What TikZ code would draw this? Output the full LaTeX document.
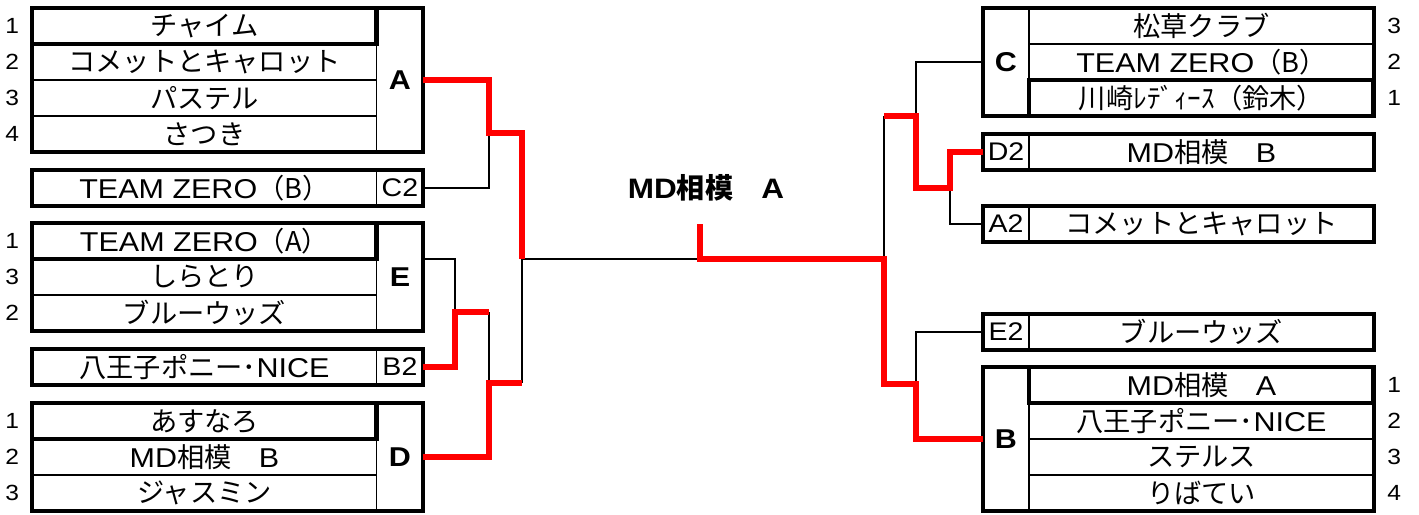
\documentclass[tikz,border=0pt]{standalone}
\usepackage{fontspec}
\setmainfont[FakeStretch=1.12]{Liberation Sans}
\newfontfamily\jpfont{Noto Sans CJK JP}
\newcommand{\jp}[1]{{\jpfont #1}}
\usetikzlibrary{positioning}
\tikzset{
team/.style={draw, line width=0.6pt, minimum width=6.9cm, minimum height=0.72cm, inner sep=0pt, outer sep=0pt, font=\fontsize{15.5}{15.5}\selectfont}, % one row of a pool
seed/.style={team, line width=2.8pt}, % the first of a pool gets a bold box
pool/.style={draw, line width=0.6pt, minimum width=0.92cm, inner sep=0pt, outer sep=0pt, font=\bfseries\fontsize{15.5}{15.5}\selectfont}, % letter column of a pool
tag/.style={pool, minimum height=0.72cm, font=\fontsize{14.5}{14.5}\selectfont}, % C2, B2 ... column
rank/.style={inner sep=0pt, font=\fontsize{12.5}{12.5}\selectfont}, % placing beside the row
frame/.style={line width=1.8pt}, % outer border of a pool
lost/.style={line width=1.5pt}, % black bracket line
won/.style={line width=3.5pt, red}, % red bracket line of the winner
}
\begin{document}
\begin{tikzpicture}[x=0.02cm, y=-0.02cm]
\useasboundingbox (0,0) rectangle (1419,514);
% left half
\node[seed, anchor=north west] (a1) at (32,8) {\jp{チャイム}};
\node[team, below=0pt of a1] (a2) {\jp{コメットとキャロット}};
\node[team, below=0pt of a2] (a3) {\jp{パステル}};
\node[team, below=0pt of a3] (a4) {\jp{さつき}};
\node[pool, minimum height=2.88cm, anchor=north west] (A) at (a1.north east) {A};
\draw[frame] (a1.north west) rectangle (A.south east);

\node[team, anchor=north west] (tC2) at (32,170) {TEAM ZERO\jp{（B）}};
\node[tag, anchor=north west] (C2) at (tC2.north east) {C2};
\draw[frame] (tC2.north west) rectangle (C2.south east);

\node[seed, anchor=north west] (e1) at (32,223) {TEAM ZERO\jp{（A）}};
\node[team, below=0pt of e1] (e2) {\jp{しらとり}};
\node[team, below=0pt of e2] (e3) {\jp{ブルーウッズ}};
\node[pool, minimum height=2.16cm, anchor=north west] (E) at (e1.north east) {E};
\draw[frame] (e1.north west) rectangle (E.south east);

\node[team, anchor=north west] (tB2) at (32,349) {\jp{八王子ポニー･}NICE};
\node[tag, anchor=north west] (B2) at (tB2.north east) {B2};
\draw[frame] (tB2.north west) rectangle (B2.south east);

\node[seed, anchor=north west] (d1) at (32,403) {\jp{あすなろ}};
\node[team, below=0pt of d1] (d2) {MD\jp{相模　}B};
\node[team, below=0pt of d2] (d3) {\jp{ジャスミン}};
\node[pool, minimum height=2.16cm, anchor=north west] (D) at (d1.north east) {D};
\draw[frame] (d1.north west) rectangle (D.south east);

% right half
\node[pool, minimum height=2.16cm, anchor=north west] (C) at (983,8) {C};
\node[team, anchor=north west] (c1) at (C.north east) {\jp{松草クラブ}};
\node[team, below=0pt of c1] (c2) {TEAM ZERO\jp{（B）}};
\node[seed, below=0pt of c2] (c3) {\jp{川崎ﾚﾃﾞｨｰｽ（鈴木）}};
\draw[frame] (C.north west) rectangle (c3.south east);

\node[tag, anchor=north west] (D2) at (983,134) {D2};
\node[team, anchor=north west] (tD2) at (D2.north east) {MD\jp{相模　}B};
\draw[frame] (D2.north west) rectangle (tD2.south east);

\node[tag, anchor=north west] (A2) at (983,206) {A2};
\node[team, anchor=north west] (tA2) at (A2.north east) {\jp{コメットとキャロット}};
\draw[frame] (A2.north west) rectangle (tA2.south east);

\node[tag, anchor=north west] (E2) at (983,314) {E2};
\node[team, anchor=north west] (tE2) at (E2.north east) {\jp{ブルーウッズ}};
\draw[frame] (E2.north west) rectangle (tE2.south east);

\node[pool, minimum height=2.88cm, anchor=north west] (B) at (983,367) {B};
\node[seed, anchor=north west] (b1) at (B.north east) {MD\jp{相模　}A};
\node[team, below=0pt of b1] (b2) {\jp{八王子ポニー･}NICE};
\node[team, below=0pt of b2] (b3) {\jp{ステルス}};
\node[team, below=0pt of b3] (b4) {\jp{りばてい}};
\draw[frame] (B.north west) rectangle (b4.south east);

% placings
\foreach \r/\n in {a1/1,a2/2,a3/3,a4/4,e1/1,e2/3,e3/2,d1/1,d2/2,d3/3}
  \node[rank, left=0.25cm of \r] (n\r) {\n};
\foreach \r/\n in {c1/3,c2/2,c3/1,b1/1,b2/2,b3/3,b4/4}
  \node[rank, right=0.26cm of \r] (n\r) {\n};

\node[font=\bfseries\fontsize{16}{16}\selectfont] (champ) at (706,188) {MD\jp{相模　}A};

% bracket joints
\coordinate (jAC) at (489,133);
\coordinate (jEB) at (455,312);
\coordinate (jED) at (489,383);
\coordinate (sL) at (522,259);
\coordinate (win) at (700,224);
\coordinate (sR) at (884,259);
\coordinate (tR) at (884,116);
\coordinate (jCD) at (916,116);
\coordinate (jDA) at (950,188);
\coordinate (jBE) at (916,384);

\draw[lost] (C2.east) -| (jAC);
\draw[lost] (e1.south -| E.east) -| (jEB);
\draw[lost] (jEB -| jED) -- (jED);
\draw[lost] (jED -| sL) -- (sL) -- (sL -| win);
\draw[lost] (C.west) -| (jCD);
\draw[lost] (A2.west) -| (jDA);
\draw[lost] (tR) -- (sR);
\draw[lost] (E2.west) -| (jBE);

\draw[won] (A.east) -| (jAC) -| (sL);
\draw[won] (B2.east) -| (jEB) -- (jEB -| jED);
\draw[won] (D.east) -| (jED) -- (jED -| sL);
\draw[won] (D2.west) -| (jDA) -| (jCD) -- (tR);
\draw[won] (B.west) -| (jBE) -- (jBE -| sR) -- (sR) -| (win);
\end{tikzpicture}
\end{document}
